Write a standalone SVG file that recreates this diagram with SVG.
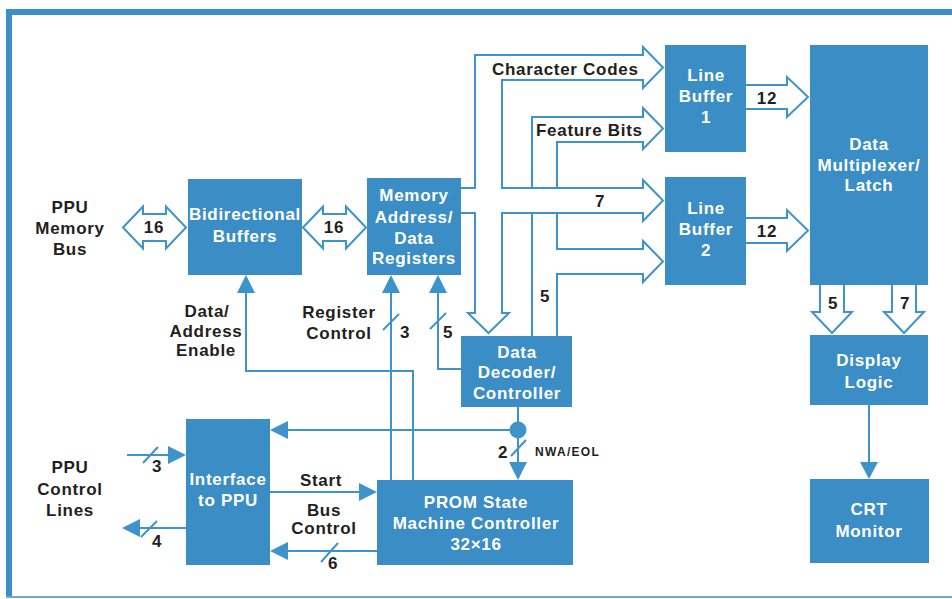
<svg xmlns="http://www.w3.org/2000/svg" width="952" height="599" viewBox="0 0 952 599">
<style>
.box{fill:#3b8dc5}
.bt{fill:#fff;font-family:"Liberation Sans",Arial,Helvetica,sans-serif;font-weight:bold;font-size:17px;letter-spacing:0.7px;text-anchor:middle}
.lt{fill:#231f20;font-family:"Liberation Sans",Arial,Helvetica,sans-serif;font-weight:bold;font-size:17px;letter-spacing:0.7px}
.c{text-anchor:middle}
.bus{fill:#fff;stroke:#3f93cb;stroke-width:2;stroke-linejoin:miter}
.ln{fill:none;stroke:#3f93cb;stroke-width:2}
.ah{fill:#3f93cb}
.sm{font-size:12px;letter-spacing:1.3px}
</style>
<rect width="952" height="599" fill="#fff"/>
<g id="frame">
<rect x="6" y="9" width="946" height="6" fill="#3d8fc6"/>
<rect x="6" y="9" width="6" height="589" fill="#3d8fc6"/>
<rect x="6" y="596" width="946" height="2" fill="#6aaad6"/>
</g>
<g id="connectors">
<!-- PPU memory bus double arrow -->
<path class="bus" d="M123,227.5 L143,206.5 V214 H166 V206.5 L186,227.5 L166,248.5 V241 H143 V248.5 Z"/>
<path class="bus" d="M303,227.5 L323,206.5 V214 H346 V206.5 L366,227.5 L346,248.5 V241 H323 V248.5 Z"/>
<!-- main bus from registers -->
<path class="bus" d="M461,188 H475 V55 H643 V47 L663,67.5 L643,88 V80 H502 V188 H643 V180 L663,200.5 L643,221 V213 H502 V313 H509 L488.5,333 L468,313 H475 V213 H461"/>
<!-- feature bits bus -->
<path class="bus" d="M532,336 V213 M532,188 V117 H643 V108 L663,128.5 L643,149 V142 H557 V188 M557,213 V249 H643 V241 L663,261.5 L643,282 V274 H557 V336"/>
<path class="ln" d="M532,213 H643 M532,188 H557"/>
<!-- line buffers to mux -->
<path class="bus" d="M746,85 H787 V77 L808,97 L787,117 V109 H746"/>
<path class="bus" d="M746,218 H787 V210 L808,230.5 L787,251 V243 H746"/>
<!-- mux to display logic -->
<path class="bus" d="M820,285 V312 H812 L832,333 L852,312 H844 V285"/>
<path class="bus" d="M892,285 V312 H884 L904,333 L924,312 H916 V285"/>
<!-- thin lines -->
<path class="ln" d="M413,480 V371 H246 V290"/>
<polygon class="ah" points="246,275 237,293 255,293"/>
<path class="ln" d="M391,480 V290"/>
<polygon class="ah" points="391,275 382,293 400,293"/>
<path class="ln" d="M383,330 L399,314"/>
<path class="ln" d="M461,369 H438 V290"/>
<polygon class="ah" points="438,275 429,293 447,293"/>
<path class="ln" d="M430,329 L446,313"/>
<path class="ln" d="M518,407 V464"/>
<circle cx="518" cy="430" r="8.5" fill="#3f93cb"/>
<polygon class="ah" points="518,480 509,462 527,462"/>
<path class="ln" d="M511,456 L526,440"/>
<path class="ln" d="M518,430 H285"/>
<polygon class="ah" points="270,430 288,421 288,439"/>
<path class="ln" d="M127,455 H171"/>
<polygon class="ah" points="186,455 168,446 168,464"/>
<path class="ln" d="M143,463 L158,447"/>
<path class="ln" d="M186,528 H137"/>
<polygon class="ah" points="122,528 140,519 140,537"/>
<path class="ln" d="M141,537 L157,521"/>
<path class="ln" d="M270,492 H362"/>
<polygon class="ah" points="377,492 359,483 359,501"/>
<path class="ln" d="M377,551 H285"/>
<polygon class="ah" points="270,551 288,542 288,560"/>
<path class="ln" d="M321,562 L338,543"/>
<path class="ln" d="M869,405 V464"/>
<polygon class="ah" points="869,479 860,462 878,462"/>
</g>
<g id="labels">
<text class="lt c" x="70" y="213">PPU</text>
<text class="lt c" x="70" y="234">Memory</text>
<text class="lt c" x="70" y="255">Bus</text>
<text class="lt c" x="70" y="473">PPU</text>
<text class="lt c" x="70" y="495">Control</text>
<text class="lt c" x="70" y="516">Lines</text>
<text class="lt c" x="154" y="233">16</text>
<text class="lt c" x="334" y="233">16</text>
<text class="lt c" x="207" y="317">Data/</text>
<text class="lt c" x="206" y="337">Address</text>
<text class="lt c" x="206" y="356">Enable</text>
<text class="lt c" x="339" y="318">Register</text>
<text class="lt c" x="339" y="339">Control</text>
<text class="lt" x="400" y="338">3</text>
<text class="lt" x="443" y="338">5</text>
<text class="lt" x="492" y="75">Character Codes</text>
<text class="lt" x="536" y="136">Feature Bits</text>
<text class="lt c" x="600" y="207">7</text>
<text class="lt c" x="545" y="302">5</text>
<text class="lt c" x="767" y="104">12</text>
<text class="lt c" x="767" y="237">12</text>
<text class="lt c" x="833" y="309">5</text>
<text class="lt c" x="905" y="309">7</text>
<text class="lt c" x="503" y="458">2</text>
<text class="lt sm" x="535" y="456">NWA/EOL</text>
<text class="lt c" x="157" y="472">3</text>
<text class="lt c" x="157" y="547">4</text>
<text class="lt c" x="321" y="486">Start</text>
<text class="lt c" x="324" y="516">Bus</text>
<text class="lt c" x="324" y="534">Control</text>
<text class="lt c" x="333" y="569">6</text>
</g>
<g id="bidirectional-buffers">
<rect class="box" x="188" y="179" width="114" height="96"/>
<text class="bt" x="245" y="220">Bidirectional</text>
<text class="bt" x="245" y="242">Buffers</text>
</g>
<g id="memory-address-data-registers">
<rect class="box" x="367" y="178" width="94" height="97"/>
<text class="bt" x="414" y="201">Memory</text>
<text class="bt" x="414" y="223">Address/</text>
<text class="bt" x="414" y="244">Data</text>
<text class="bt" x="414" y="264">Registers</text>
</g>
<g id="data-decoder-controller">
<rect class="box" x="461" y="336" width="111" height="71"/>
<text class="bt" x="517" y="358">Data</text>
<text class="bt" x="517" y="378">Decoder/</text>
<text class="bt" x="517" y="399">Controller</text>
</g>
<g id="interface-to-ppu">
<rect class="box" x="186" y="419" width="84" height="146"/>
<text class="bt" x="228" y="485">Interface</text>
<text class="bt" x="228" y="506">to PPU</text>
</g>
<g id="prom-state-machine-controller">
<rect class="box" x="377" y="480" width="196" height="85"/>
<text class="bt" x="476" y="508">PROM State</text>
<text class="bt" x="476" y="529">Machine Controller</text>
<text class="bt" x="476" y="550">32×16</text>
</g>
<g id="line-buffer-1">
<rect class="box" x="665" y="45" width="81" height="107"/>
<text class="bt" x="706" y="81">Line</text>
<text class="bt" x="706" y="102">Buffer</text>
<text class="bt" x="706" y="123">1</text>
</g>
<g id="line-buffer-2">
<rect class="box" x="665" y="177" width="81" height="108"/>
<text class="bt" x="706" y="214">Line</text>
<text class="bt" x="706" y="235">Buffer</text>
<text class="bt" x="706" y="256">2</text>
</g>
<g id="data-multiplexer-latch">
<rect class="box" x="810" y="45" width="118" height="240"/>
<text class="bt" x="869" y="150">Data</text>
<text class="bt" x="869" y="171">Multiplexer/</text>
<text class="bt" x="869" y="191">Latch</text>
</g>
<g id="display-logic">
<rect class="box" x="810" y="335" width="118" height="70"/>
<text class="bt" x="869" y="366">Display</text>
<text class="bt" x="869" y="388">Logic</text>
</g>
<g id="crt-monitor">
<rect class="box" x="810" y="479" width="119" height="84"/>
<text class="bt" x="869" y="515">CRT</text>
<text class="bt" x="869" y="537">Monitor</text>
</g>
</svg>
